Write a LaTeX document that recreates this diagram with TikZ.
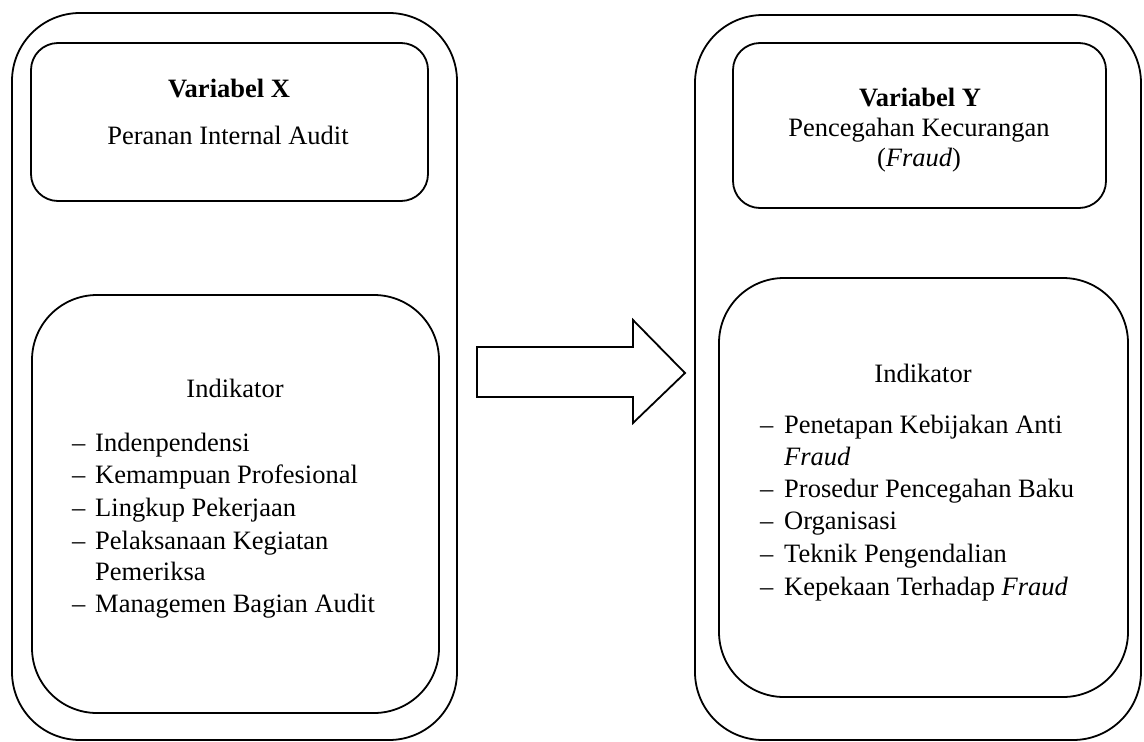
\documentclass[tikz,border=0pt]{standalone}
\usepackage{fontspec}
\setmainfont{Liberation Serif}
\begin{document}
\begin{tikzpicture}[x=1pt,y=-1pt,
  box/.style={draw=black,line width=1.8pt},
  txt/.style={font=\fontsize{26.5}{32.5}\selectfont,inner sep=0pt,anchor=base},
  item/.style={font=\fontsize{26.5}{32.5}\selectfont,inner sep=0pt,anchor=base west}]
\useasboundingbox (0,0) rectangle (1144,742);
% outer boxes
\draw[box,rounded corners=68pt] (12,13) rectangle (457,740);
\draw[box,rounded corners=68pt] (695,15) rectangle (1141,740);
% inner boxes
\draw[box,rounded corners=27pt] (31,43) rectangle (428,201);
\draw[box,rounded corners=65pt] (32,295) rectangle (439,713);
\draw[box,rounded corners=27pt] (733,43) rectangle (1106,208);
\draw[box,rounded corners=65pt] (719,278) rectangle (1128,697);
% arrow
\draw[box,line join=miter] (477,347) -- (633,347) -- (633,320) -- (685,373) -- (633,423) -- (633,397) -- (477,397) -- cycle;
% left texts
\node[txt] (vx) at (229,97) {\textbf{Variabel X}};
\node[txt] (px) at (228,144) {Peranan Internal Audit};
\node[txt] (ix) at (235,397) {Indikator};
\foreach \yy/\t [count=\i] in {451/Indenpendensi,483/Kemampuan Profesional,516/Lingkup Pekerjaan,549/Pelaksanaan Kegiatan,612/Managemen Bagian Audit}{
  \node[item] (ld\i) at (72,\yy) {–};
  \node[item] (lt\i) at (95,\yy) {\t};
}
\node[item] (lt6) at (95,580) {Pemeriksa};
% right texts
\node[txt] (vy) at (920,106) {\textbf{Variabel Y}};
\node[txt] (py) at (919,136) {Pencegahan Kecurangan};
\node[txt] (fy) at (919,166) {(\textit{Fraud})};
\node[txt] (iy) at (923,382) {Indikator};
\foreach \yy/\t [count=\i] in {433/Penetapan Kebijakan Anti,497/Prosedur Pencegahan Baku,529/Organisasi,562/Teknik Pengendalian,595/Kepekaan Terhadap \textit{Fraud}}{
  \node[item] (rd\i) at (760,\yy) {–};
  \node[item] (rt\i) at (784,\yy) {\t};
}
\node[item] (rt6) at (784,465) {\textit{Fraud}};
\end{tikzpicture}
\end{document}
